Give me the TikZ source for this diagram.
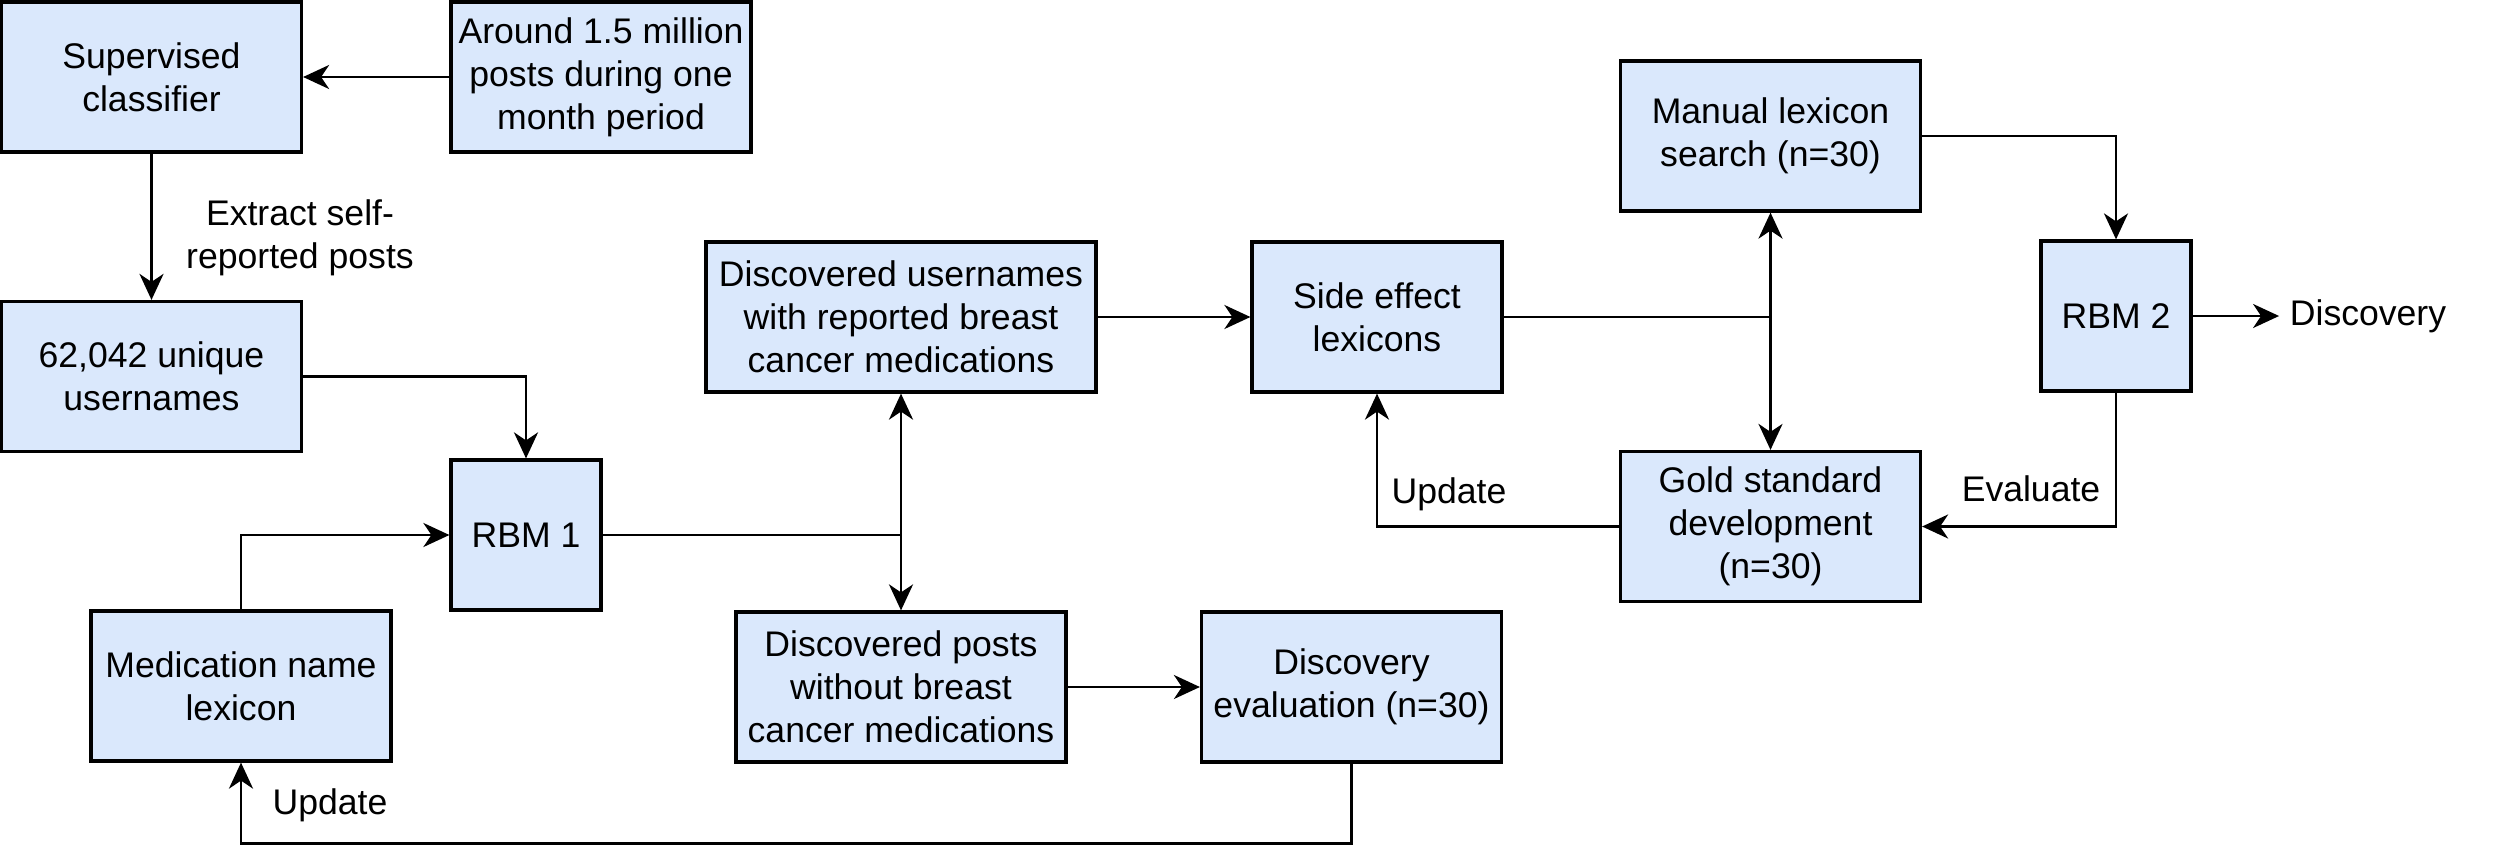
\documentclass[tikz,border=0pt]{standalone}
\usepackage{fontspec}
\setmainfont{Liberation Sans}
\usetikzlibrary{arrows.meta}
\definecolor{boxfill}{HTML}{DAE8FC}
\begin{document}
\begin{tikzpicture}[x=0.25pt,y=-0.25pt,
  every node/.style={font=\fontsize{8.9pt}{10.8pt}\selectfont},
  box/.style={draw=black,fill=boxfill,line width=0.8pt,align=center,inner sep=0pt,minimum height=37.5pt},
  lbl/.style={align=center,inner sep=0pt},
  conn/.style={line width=0.7pt},
  arr/.style={conn,-{Stealth[length=6.5pt,width=6pt,inset=2pt]}},
  darr/.style={conn,{Stealth[length=6.5pt,width=6pt,inset=2pt]}-{Stealth[length=6.5pt,width=6pt,inset=2pt]}}]
\useasboundingbox (0,0) rectangle (2493,867);
% boxes
\node[box,minimum width=75pt] (sup) at (151.5,77) {Supervised\\classifier};
\node[box,minimum width=75pt] (around) at (601,77) {Around 1.5 million\\posts during one\\month period};
\node[box,minimum width=75pt] (uniq) at (151.5,376.5) {62,042 unique\\usernames};
\node[box,minimum width=37.5pt] (rbm1) at (526,535) {RBM 1};
\node[box,minimum width=75pt] (med) at (241,686) {Medication name\\lexicon};
\node[box,minimum width=97.5pt] (dusers) at (901,317) {Discovered usernames\\with reported breast\\cancer medications};
\node[box,minimum width=82.5pt] (dposts) at (901,687) {Discovered posts\\without breast\\cancer medications};
\node[box,minimum width=62.5pt] (side) at (1377,317) {Side effect\\lexicons};
\node[box,minimum width=75pt] (deval) at (1351.5,687) {Discovery\\evaluation (n=30)};
\node[box,minimum width=75pt] (manual) at (1770.5,136) {Manual lexicon\\search (n=30)};
\node[box,minimum width=37.5pt] (rbm2) at (2116,316) {RBM 2};
\node[box,minimum width=75pt] (gold) at (1770.5,526.5) {Gold standard\\development\\(n=30)};
\node[lbl,inner xsep=2.5pt] (disc) at (2368,316) {Discovery};
% labels
\node[lbl] (lext) at (300,238) {Extract self-\\reported posts};
\node[lbl] (lupd1) at (330,805) {Update};
\node[lbl] (lupd2) at (1449,494) {Update};
\node[lbl] (leval) at (2031,489) {Evaluate};
% junctions
\coordinate (j1) at (dusers.south |- rbm1.east);
\coordinate (j2) at (manual.south |- side.east);
% connectors
\draw[arr] (around.west) -- (sup.east);
\draw[arr] (sup.south) -- (uniq.north);
\draw[arr] (uniq.east) -| (rbm1.north);
\draw[arr] (med.north) |- (rbm1.west);
\draw[conn] (rbm1.east) -- (j1);
\draw[arr] (j1) -- (dusers.south);
\draw[arr] (j1) -- (dposts.north);
\draw[arr] (dusers.east) -- (side.west);
\draw[arr] (dposts.east) -- (deval.west);
\draw[arr] (deval.south) -- ++(0,80) -| (med.south);
\draw[conn] (side.east) -- (j2);
\draw[arr] (j2) -- (manual.south);
\draw[arr] (j2) -- (gold.north);
\draw[arr] (manual.east) -| (rbm2.north);
\draw[arr] (rbm2.east) -- (disc.west);
\draw[arr] (rbm2.south) |- (gold.east);
\draw[arr] (gold.west) -| (side.south);
\end{tikzpicture}
\end{document}
